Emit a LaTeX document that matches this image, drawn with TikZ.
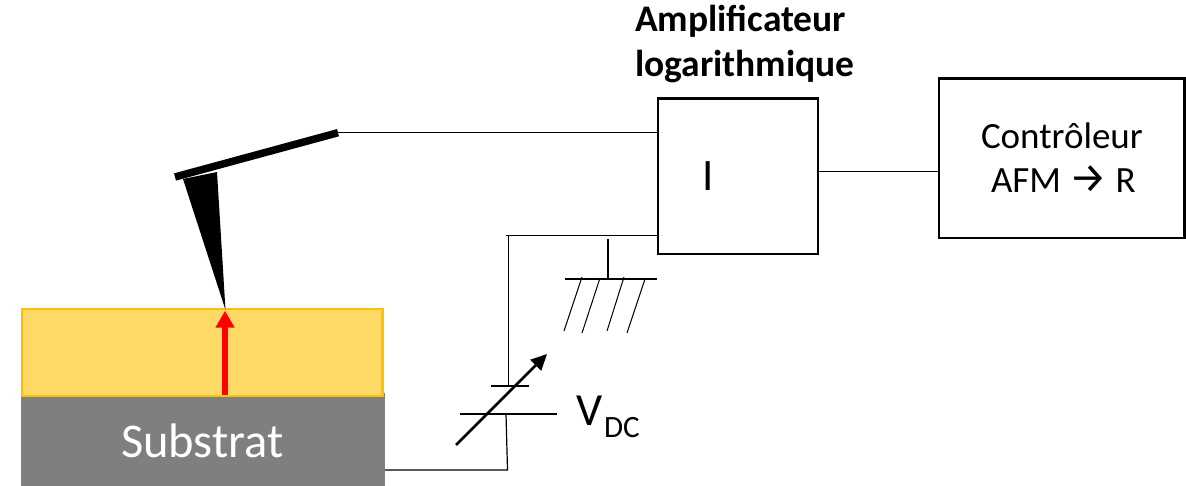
\documentclass[tikz,border=0pt]{standalone}
\usepackage{fontspec}
\setmainfont{Carlito}
\newfontfamily\arrowfont{Fira Sans}
\usetikzlibrary{arrows.meta}
\definecolor{goldfill}{HTML}{FFD966}
\definecolor{goldline}{HTML}{FFC000}
\definecolor{subgrey}{HTML}{7F7F7F}
\newcommand{\fs}[1]{\fontsize{#1}{#1}\selectfont}
\tikzset{
  x=1pt,y=-1pt,
  wire/.style={draw=black,line width=1.2pt},
  block/.style={draw=black,line width=2.3pt,fill=white,inner sep=0pt,outer sep=0pt,anchor=north west},
  rectshape/.style={inner sep=0pt,outer sep=0pt,anchor=north west},
  lbl/.style={inner sep=0pt,outer sep=0pt,anchor=base west}
}
\begin{document}
\begin{tikzpicture}
\useasboundingbox (0,0) rectangle (1186,486);
% stack
\node[rectshape,fill=subgrey,minimum width=364pt,minimum height=93pt] (substrat) at (21,393) {};
\node[rectshape,fill=goldfill,draw=goldline,line width=2.4pt,minimum width=360.5pt,minimum height=86.5pt] (couche) at (22,309.3) {};
\node[lbl,text=white,font=\fs{48.5}] (subtxt) at (121,457) {Substrat};
% blocks
\node[block,minimum width=159.5pt,minimum height=155.5pt] (ampli) at (658.3,98.5) {};
\node[block,minimum width=245.5pt,minimum height=159.5pt] (ctrl) at (939,78.5) {};
\node[lbl,font=\fs{37}] (ctrltxt) at (981,149) {Contrôleur};
\node[lbl,font=\fs{37}] (afmtxt) at (991,193) {AFM {\arrowfont\fs{42}→} R};
\node[lbl,font=\fs{45}] (itxt) at (702,191) {I};
\node[lbl,font=\bfseries\fs{37.5}] (amptxt) at (635,32) {Amplificateur};
\node[lbl,font=\bfseries\fs{37.5}] (logtxt) at (635,77) {logarithmique};
\node[lbl,font=\fs{46}] (vtxt) at (576,425) {V\kern2pt\raisebox{-12pt}{\fs{31}DC}};
% cantilever and tip
\coordinate (cl) at (175,177);
\coordinate (cr) at (338,132.7);
\draw[line width=7.5pt,black] (cl) -- (cr);
\fill[black] (183,179) -- (217,172) -- (225.5,310) -- cycle;
% wires
\draw[wire] (cr) -- (ampli.west |- cr);
\coordinate (ws) at (0,171.5);
\draw[wire] (ampli.east |- ws) -- (ctrl.west |- ws);
\coordinate (jt) at (506,235.7);
\coordinate (jv) at (508.7,235.7);
\coordinate (pa) at (491,386);
\coordinate (pb) at (529,386);
\coordinate (qa) at (459.5,414);
\coordinate (qb) at (557,414);
\coordinate (qm) at (506,414);
\coordinate (qd) at (507.5,470);
\coordinate (gt) at (608,239);
\coordinate (gb) at (608,279);
\coordinate (gl) at (565,279);
\coordinate (gr) at (657,279);
\draw[wire] (jt) -- (ampli.west |- jt);
\draw[wire] (jv) -- (jv |- pa);
\draw[wire] (pa) -- (pb);
\draw[wire] (qa) -- (qb);
\draw[wire] (qm) -- (qd) -- (substrat.east |- qd);
\draw[wire] (gt) -- (gb);
\draw[wire] (gl) -- (gr);
\foreach \a/\b/\c/\d in {582/277/564/331,600/278/582/333,624/277/607/331,645/279/627/333}
  \draw[line width=1pt] (\a,\b) -- (\c,\d);
% variable arrow
\coordinate (va) at (456,445);
\coordinate (vb) at (547,354);
\draw[line width=2.6pt,-{Triangle[length=16pt,width=15pt]}] (va) -- (vb);
% red arrow
\coordinate (ra) at (225,395);
\coordinate (rb) at (225,310.7);
\draw[red,line width=6pt,-{Triangle[length=17pt,width=18pt]}] (ra) -- (rb);
\end{tikzpicture}
\end{document}
